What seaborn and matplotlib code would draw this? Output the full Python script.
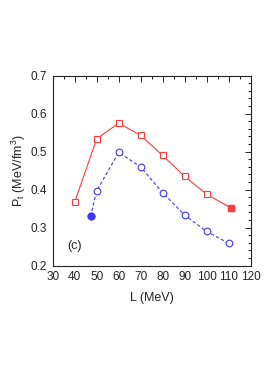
import matplotlib
matplotlib.use("Agg")
import matplotlib.pyplot as plt
import seaborn as sns
import pandas as pd
from matplotlib.ticker import MultipleLocator

# Data
L_red = [40, 50, 60, 70, 80, 90, 100, 111]
P_red = [0.367, 0.534, 0.575, 0.543, 0.490, 0.435, 0.388, 0.352]
L_blue = [47.2, 50, 60, 70, 80, 90, 100, 110]
P_blue = [0.330, 0.397, 0.498, 0.460, 0.392, 0.333, 0.290, 0.259]
x_ticks = [30, 40, 50, 60, 70, 80, 90, 100, 110, 120]
y_ticks = [0.2, 0.3, 0.4, 0.5, 0.6, 0.7]

sns.set_style("white")
plt.rcParams['font.family'] = ['Liberation Sans', 'DejaVu Sans']
plt.rcParams['mathtext.fontset'] = 'custom'
plt.rcParams['mathtext.rm'] = 'Liberation Sans'
plt.rcParams['mathtext.it'] = 'Liberation Sans'

red = '#ff3b3b'
blue = '#3a3aff'

fig = plt.figure(figsize=(2.66, 3.8), dpi=100)
ax = fig.add_axes([0.198, 0.3008, 0.7445, 0.5])

df_r = pd.DataFrame({'L': L_red, 'P': P_red})
df_b = pd.DataFrame({'L': L_blue, 'P': P_blue})

sns.lineplot(data=df_r, x='L', y='P', ax=ax, color=red, lw=0.8, marker='s',
             markersize=4.5, markerfacecolor='white', markeredgecolor=red,
             markeredgewidth=0.8)
sns.lineplot(data=df_b, x='L', y='P', ax=ax, color=blue, lw=0.8, linestyle=(0, (3, 2)),
             marker='o', markersize=4.8, markerfacecolor='white', markeredgecolor=blue,
             markeredgewidth=0.8)
# filled end points
ax.plot(L_red[-1:], P_red[-1:], 's', color=red, markersize=4.8, markeredgecolor=red)
ax.plot(L_blue[:1], P_blue[:1], 'o', color=blue, markersize=4.8, markeredgecolor=blue)

ax.set_xlim(30, 120)
ax.set_ylim(0.2, 0.7)
ax.set_xticks(x_ticks)
ax.set_yticks(y_ticks)
ax.set_xticklabels([str(t) for t in x_ticks])
ax.set_yticklabels([f"{t:.1f}" for t in y_ticks])
ax.xaxis.set_minor_locator(MultipleLocator(5))
ax.yaxis.set_minor_locator(MultipleLocator(0.02))
ax.tick_params(which='both', direction='in', top=True, right=True, labelsize=8.5,
               width=0.7, colors='#222222', labelcolor='#222222')
ax.tick_params(which='major', length=4, pad=4)
ax.tick_params(which='minor', length=2)
for s in ax.spines.values():
    s.set_linewidth(0.8)
    s.set_color('#222222')

ax.set_xlabel('L (MeV)', fontsize=9, color='#222222', labelpad=6)
ax.set_ylabel(r'P$_\mathregular{t}$ (MeV/fm$^\mathregular{3}$)', fontsize=9, color='#222222')
ax.yaxis.set_label_coords(-0.125, 0.5)
ax.text(39.7, 0.252, '(c)', fontsize=9, ha='center', va='center', color='#222222')

fig.savefig('out.png', dpi=100)
